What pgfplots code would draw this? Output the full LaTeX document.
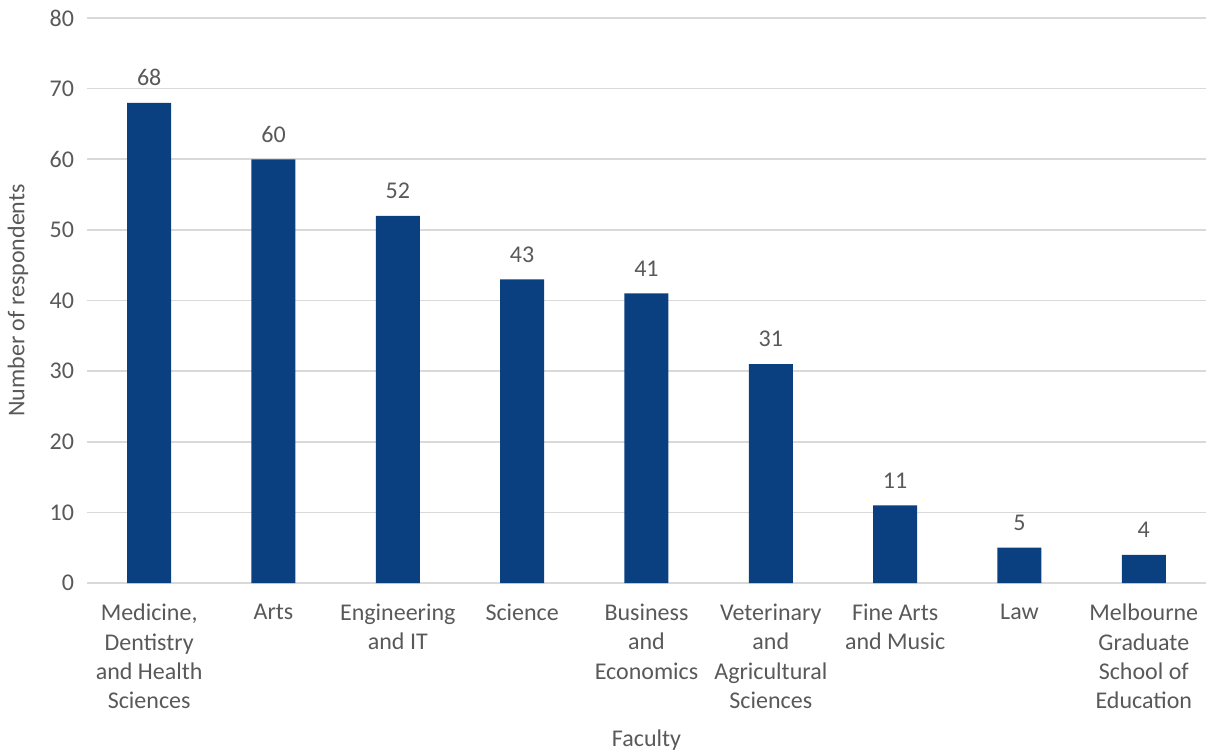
\documentclass[border=0pt]{standalone}
\usepackage{pgfplots}
\pgfplotsset{compat=1.18}
\usepackage{fontspec}
\setmainfont{Carlito}
\definecolor{barblue}{RGB}{11,64,128}
\definecolor{txtgray}{RGB}{89,89,89}
\definecolor{gridgray}{RGB}{217,217,217}
\begin{document}
\begin{tikzpicture}
\path[use as bounding box] (-43.5pt,-84pt) rectangle (559.5pt,291.5pt);
\begin{axis}[
  at={(0,0)}, anchor=south west,
  scale only axis, width=559.5pt, height=282.5pt,
  xmin=-0.5, xmax=8.5, ymin=0, ymax=80,
  ytick={0,10,...,80},
  xtick={0,...,8},
  xticklabels={{Medicine,\\Dentistry\\and Health\\Sciences},Arts,{Engineering\\and IT},Science,{Business\\and\\Economics},{Veterinary\\and\\Agricultural\\Sciences},{Fine Arts\\and Music},Law,{Melbourne\\Graduate\\School of\\Education}},
  xticklabel style={align=center, font=\fontsize{12}{14.7}\selectfont, text=txtgray, anchor=north, yshift=-7pt},
  yticklabel style={font=\fontsize{12}{15}\selectfont, text=txtgray, xshift=-3pt},
  /pgf/number format/assume math mode=true,
  major tick length=0pt,
  axis line style={draw=none},
  ymajorgrids, grid style={gridgray, line width=0.8pt},
  ylabel={Number of respondents},
  xlabel={Faculty},
  ylabel style={at={(rel axis cs:-0.0617,0.5)}, anchor=center, font=\fontsize{12}{15}\selectfont, text=txtgray},
  xlabel style={at={(rel axis cs:0.5,-0.2779)}, anchor=center, font=\fontsize{12}{15}\selectfont, text=txtgray},
  ybar, bar width=22pt,
  nodes near coords,
  every node near coord/.append style={font=\fontsize{12}{15}\selectfont, text=txtgray, yshift=5pt},
]
\addplot[fill=barblue, draw=none] coordinates {(0,68) (1,60) (2,52) (3,43) (4,41) (5,31) (6,11) (7,5) (8,4)};
\end{axis}
\end{tikzpicture}
\end{document}
